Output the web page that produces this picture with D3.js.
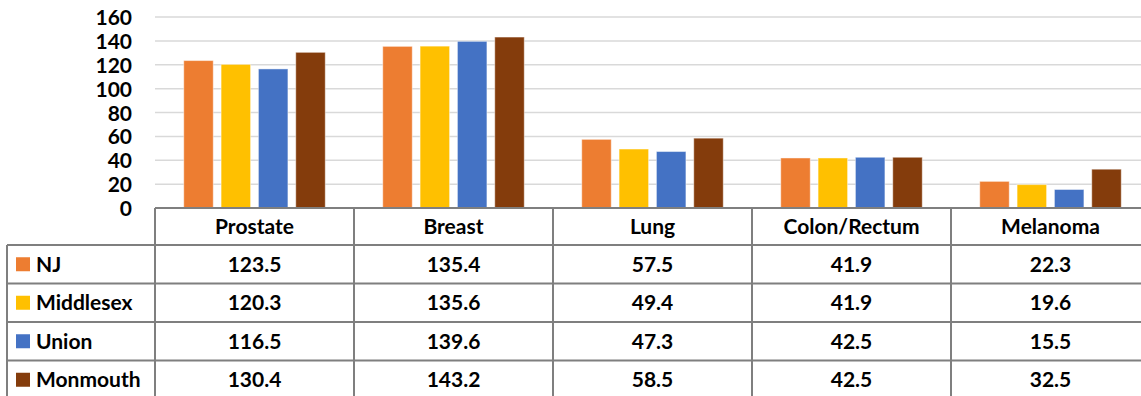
<!DOCTYPE html>
<html>
<head>
<meta charset="utf-8">
<script src="https://cdn.jsdelivr.net/npm/d3@7"></script>
<style>
  html, body { margin: 0; padding: 0; background: #fff; }
  svg { display: block; }
  text { font-family: Lato, "Open Sans", "Noto Sans", sans-serif; font-weight: 700; fill: #000; }
</style>
</head>
<body>
<svg id="chart" width="1141" height="396"></svg>
<script>
// Cancer incidence rates by site and area
const categories = ["Prostate", "Breast", "Lung", "Colon/Rectum", "Melanoma"];
const seriesNames = ["NJ", "Middlesex", "Union", "Monmouth"];
const seriesColors = ["#ED7D31", "#FFC000", "#4472C4", "#843C0C"];
const njValues = [123.5, 135.4, 57.5, 41.9, 22.3];
const middlesexValues = [120.3, 135.6, 49.4, 41.9, 19.6];
const unionValues = [116.5, 139.6, 47.3, 42.5, 15.5];
const monmouthValues = [130.4, 143.2, 58.5, 42.5, 32.5];
const yTicks = [0, 20, 40, 60, 80, 100, 120, 140, 160];

const seriesValues = [njValues, middlesexValues, unionValues, monmouthValues];

const svg = d3.select("#chart");
const plotLeft = 155, colWidth = 199;
const plotRight = plotLeft + colWidth * categories.length;
const plotTop = 17, plotBottom = 208;
const tableLeft = 7;
const headerBottom = 245;
const rowH = 38.5;
const fontSize = 21;
const gridColor = "#d9d9d9";
const borderColor = "#7f7f7f";

const x = d3.scaleBand().domain(categories).range([plotLeft, plotRight]);
const xs = d3.scaleBand().domain(seriesNames).range([0, x.bandwidth()])
  .paddingInner(0.21).paddingOuter(0.77);
const y = d3.scaleLinear().domain([0, 160]).range([plotBottom, plotTop]);

// Gridlines
svg.append("g").selectAll("line").data(yTicks.filter(d => d > 0)).join("line")
  .attr("x1", plotLeft).attr("x2", plotRight)
  .attr("y1", d => y(d)).attr("y2", d => y(d))
  .attr("stroke", gridColor).attr("stroke-width", 1.5);

// Y axis labels
const yAxis = d3.axisLeft(y).tickValues(yTicks).tickSize(0).tickPadding(0);
const yg = svg.append("g").attr("transform", `translate(132,0)`).call(yAxis);
yg.select(".domain").remove();
yg.selectAll("text").attr("font-size", fontSize).attr("font-family", null).attr("dy", "0.36em");

// Bars
const groups = svg.append("g").selectAll("g").data(categories).join("g")
  .attr("transform", d => `translate(${x(d)},0)`);
groups.selectAll("rect")
  .data((c, ci) => seriesNames.map((s, si) => ({ s, si, v: seriesValues[si][ci] })))
  .join("rect")
  .attr("x", d => xs(d.s))
  .attr("width", xs.bandwidth())
  .attr("y", d => y(d.v))
  .attr("height", d => y(0) - y(d.v))
  .attr("fill", d => seriesColors[d.si])
  .attr("stroke", "rgba(255,255,255,0.45)")
  .attr("stroke-width", 1);

// Data table
const table = svg.append("g");
const lineAttrs = sel => sel.attr("stroke", borderColor).attr("stroke-width", 2);
const tableBottom = headerBottom + rowH * seriesNames.length;

// Horizontal lines
table.append("line").attr("x1", plotLeft).attr("x2", plotRight)
  .attr("y1", plotBottom).attr("y2", plotBottom).call(lineAttrs);
d3.range(seriesNames.length).forEach(i => {
  table.append("line").attr("x1", tableLeft).attr("x2", plotRight)
    .attr("y1", headerBottom + rowH * i).attr("y2", headerBottom + rowH * i).call(lineAttrs);
});
// Vertical lines
table.append("line").attr("x1", tableLeft).attr("x2", tableLeft)
  .attr("y1", headerBottom).attr("y2", tableBottom + 2).call(lineAttrs);
d3.range(categories.length + 1).forEach(i => {
  const xx = plotLeft + colWidth * i;
  table.append("line").attr("x1", xx).attr("x2", xx)
    .attr("y1", plotBottom).attr("y2", tableBottom + 2).call(lineAttrs);
});

// Header labels
table.selectAll("text.cat").data(categories).join("text").attr("class", "cat")
  .attr("x", d => x(d) + x.bandwidth() / 2)
  .attr("y", (plotBottom + headerBottom) / 2)
  .attr("dy", "0.36em").attr("text-anchor", "middle").attr("font-size", fontSize)
  .text(d => d);

// Rows
seriesNames.forEach((s, si) => {
  const cy = headerBottom + rowH * si + rowH / 2;
  table.append("rect").attr("x", 16).attr("y", cy - 7).attr("width", 14).attr("height", 14)
    .attr("fill", seriesColors[si]);
  table.append("text").attr("x", 36).attr("y", cy).attr("dy", "0.36em")
    .attr("font-size", fontSize).text(s);
  table.append("g").selectAll("text").data(categories).join("text")
    .attr("x", d => x(d) + x.bandwidth() / 2).attr("y", cy).attr("dy", "0.36em")
    .attr("text-anchor", "middle").attr("font-size", fontSize)
    .text((d, ci) => seriesValues[si][ci].toFixed(1));
});
</script>
</body>
</html>
